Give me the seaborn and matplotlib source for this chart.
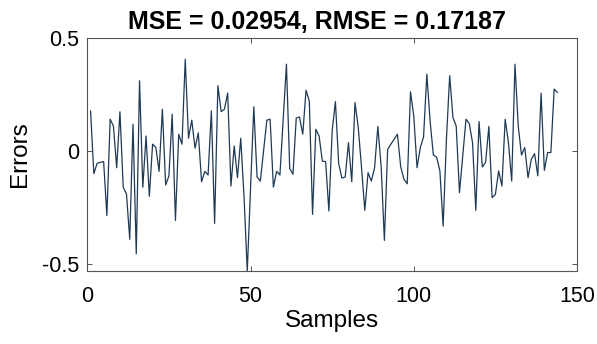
import matplotlib
matplotlib.use("Agg")
import matplotlib.pyplot as plt
import seaborn as sns
import numpy as np
import pandas as pd

samples = list(range(1, 145))
errors = [
    0.177, -0.100, -0.055, -0.050, -0.047, -0.285, 0.140, 0.110, -0.074, 0.173,
    -0.160, -0.190, -0.390, 0.118, -0.454, 0.310, -0.160, 0.066, -0.200, 0.030,
    0.015, -0.090, 0.184, -0.150, -0.110, 0.162, -0.307, 0.074, 0.030, 0.405,
    0.056, 0.136, 0.012, 0.080, -0.136, -0.090, -0.106, 0.177, -0.320, 0.288,
    0.174, 0.184, 0.255, -0.155, 0.022, -0.118, 0.056, -0.200, -0.530, -0.170,
    0.195, -0.115, -0.133, 0.000, 0.136, 0.140, -0.160, -0.090, -0.106, 0.140,
    0.383, -0.077, -0.103, 0.145, 0.150, 0.074, 0.268, 0.220, -0.280, 0.096,
    0.066, -0.045, -0.047, -0.265, 0.088, 0.218, -0.056, -0.120, -0.115, 0.037,
    -0.136, 0.214, 0.103, -0.074, -0.262, -0.096, -0.133, -0.074, 0.108, -0.066,
    -0.395, 0.007, 0.030, 0.052, 0.074, -0.070, -0.125, -0.145, 0.261, 0.155,
    -0.074, 0.015, 0.062, 0.339, 0.133, -0.018, -0.027, -0.088, -0.332, 0.050,
    0.332, 0.147, 0.110, -0.184, -0.022, 0.140, 0.121, 0.037, -0.262, 0.130,
    -0.071, -0.050, 0.108, -0.206, -0.192, -0.088, -0.155, 0.140, 0.037, -0.133,
    0.383, 0.110, -0.018, 0.015, -0.118, -0.037, -0.012, -0.110, 0.255, -0.086,
    -0.007, -0.007, 0.273, 0.258,
]
x_ticks = [0, 50, 100, 150]
y_ticks = [-0.5, 0, 0.5]
y_tick_labels = ["-0.5", "0", "0.5"]
title_text = "MSE = 0.02954, RMSE = 0.17187"

sns.set_theme(style="ticks")
plt.rcParams["font.family"] = ["Liberation Sans", "DejaVu Sans"]
plt.rcParams["axes.unicode_minus"] = False

df = pd.DataFrame({"Samples": samples, "Errors": errors})

fig = plt.figure(figsize=(5.97, 3.44), dpi=100)
ax = fig.add_axes([87.3 / 597, 1 - 271 / 344, (577 - 87.3) / 597, (271 - 37.7) / 344])

sns.lineplot(data=df, x="Samples", y="Errors", ax=ax, color="#1f3a55", linewidth=0.9)

ax.set_xlim(0, 150)
ax.set_ylim(-0.53, 0.5)
ax.set_xticks(x_ticks)
ax.set_xticklabels([str(t) for t in x_ticks])
ax.set_yticks(y_ticks)
ax.set_yticklabels(y_tick_labels)

for s in ax.spines.values():
    s.set_visible(True)
    s.set_color("#555555")
    s.set_linewidth(0.8)

ax.tick_params(axis="both", direction="in", length=3.5, width=0.7, color="#555555",
               labelsize=15.5, labelcolor="black", top=True, right=True)
ax.tick_params(axis="x", pad=11)
ax.tick_params(axis="y", pad=6)

ax.set_xlabel("Samples", fontsize=17.5, color="black", labelpad=2)
ax.set_ylabel("Errors", fontsize=17.5, color="black", labelpad=8)
ax.set_title(title_text, fontsize=18, fontweight="bold", color="black", x=0.469, pad=6)

fig.savefig("out.png", dpi=100, facecolor="white")
